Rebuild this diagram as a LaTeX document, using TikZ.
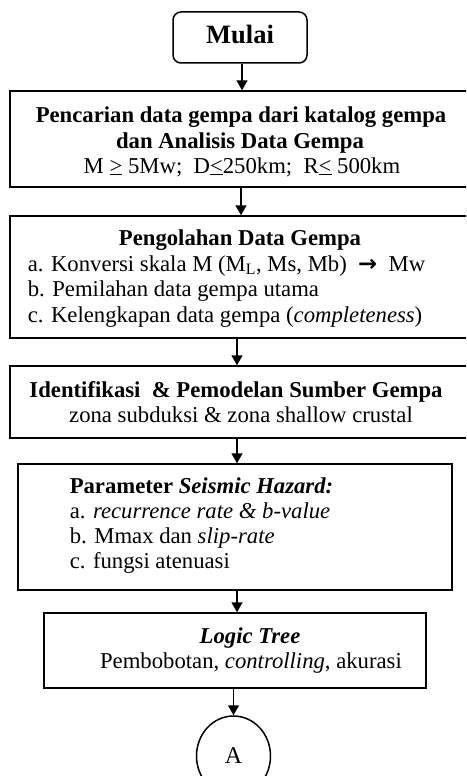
\documentclass[tikz,border=0pt]{standalone}
\usepackage{fontspec}
\setmainfont{Liberation Serif}
\newfontfamily\symfont{DejaVu Sans}
\usetikzlibrary{arrows.meta,shapes.geometric}
\newcommand{\fsbody}{\fontsize{22.7}{25.5}\selectfont}
\newcommand{\fsbig}{\fontsize{26.5}{30}\selectfont}
\newcommand{\fsA}{\fontsize{24}{28}\selectfont}
\newcommand{\ulgt}{\underline{>}}
\newcommand{\ullt}{\underline{<}}
\begin{document}
\begin{tikzpicture}[x=1pt,y=-1pt, line width=1.5pt,
  box/.style={draw, rectangle, inner sep=0pt},
  txt/.style={inner sep=0pt, anchor=base, font=\fsbody},
  txtl/.style={txt, anchor=base west},
  arr/.style={-{Triangle[width=11pt,length=10pt]}}]
\clip (0,0) rectangle (466,776);
% boxes
\node[box, rounded corners=8pt, minimum width=134, minimum height=51] (start) at (240,37.5) {};
\node[box, minimum width=462, minimum height=96] (b1) at (241,139) {};
\node[box, minimum width=462, minimum height=122] (b2) at (241,277) {};
\node[box, minimum width=462, minimum height=72] (b3) at (241,402) {};
\node[box, minimum width=434, minimum height=126] (b4) at (235,527) {};
\node[box, minimum width=382, minimum height=75] (b5) at (235,650.5) {};
\node[draw, ellipse, minimum width=74, minimum height=80, inner sep=0pt, font=\fsA] (endA) at (233.5,756) {A};
% texts
\node[txt, font=\fsbig\bfseries] (tstart) at (240,44) {Mulai};
\node[txt, font=\fsbody\bfseries] (t1a) at (241,122) {Pencarian data gempa dari katalog gempa};
\node[txt, font=\fsbody\bfseries] (t1b) at (240,148) {dan Analisis Data Gempa};
\node[txt] (t1c) at (242,173) {M \ulgt{} 5Mw;\ \ D\ullt250km;\ \ R\ullt{} 500km};
\node[txt, font=\fsbody\bfseries] (t2a) at (240,245) {Pengolahan Data Gempa};
\node[txtl] (t2b) at (27,271) {a. Konversi skala M (M\textsubscript{L}, Ms, Mb)\ \ {\symfont\bfseries →}\ \ Mw};
\node[txtl] (t2c) at (27,296) {b. Pemilahan data gempa utama};
\node[txtl] (t2d) at (27,322) {c. Kelengkapan data gempa (\textit{completeness})};
\node[txt, font=\fsbody\bfseries] (t3a) at (236,397) {Identifikasi\ \ \& Pemodelan Sumber Gempa};
\node[txt] (t3b) at (241,422) {zona subduksi \& zona shallow crustal};
\node[txtl, font=\fsbody\bfseries] (t4a) at (69,493) {Parameter \textit{Seismic Hazard:}};
\node[txtl] (t4b) at (69,518) {a. \textit{recurrence rate \& b-value}};
\node[txtl] (t4c) at (69,543) {b. Mmax dan \textit{slip-rate}};
\node[txtl] (t4d) at (69,568) {c. fungsi atenuasi};
\node[txt, font=\fsbody\bfseries\itshape] (t5a) at (250,643) {Logic Tree};
\node[txt] (t5b) at (251,668) {Pembobotan, \textit{controlling}, akurasi};
% connectors
\coordinate (xa) at (242,0);
\coordinate (xb) at (241,0);
\coordinate (xc) at (237,0);
\coordinate (xd) at (233.5,0);
\draw[arr] (start.south -| xa) -- (b1.north -| xa);
\draw[arr] (b1.south -| xb) -- (b2.north -| xb);
\draw[arr] (b2.south -| xc) -- (b3.north -| xc);
\draw[arr] (b3.south -| xc) -- (b4.north -| xc);
\draw[arr] (b4.south -| xc) -- (b5.north -| xc);
\draw[arr] (b5.south -| xd) -- (endA.north);
\end{tikzpicture}
\end{document}
